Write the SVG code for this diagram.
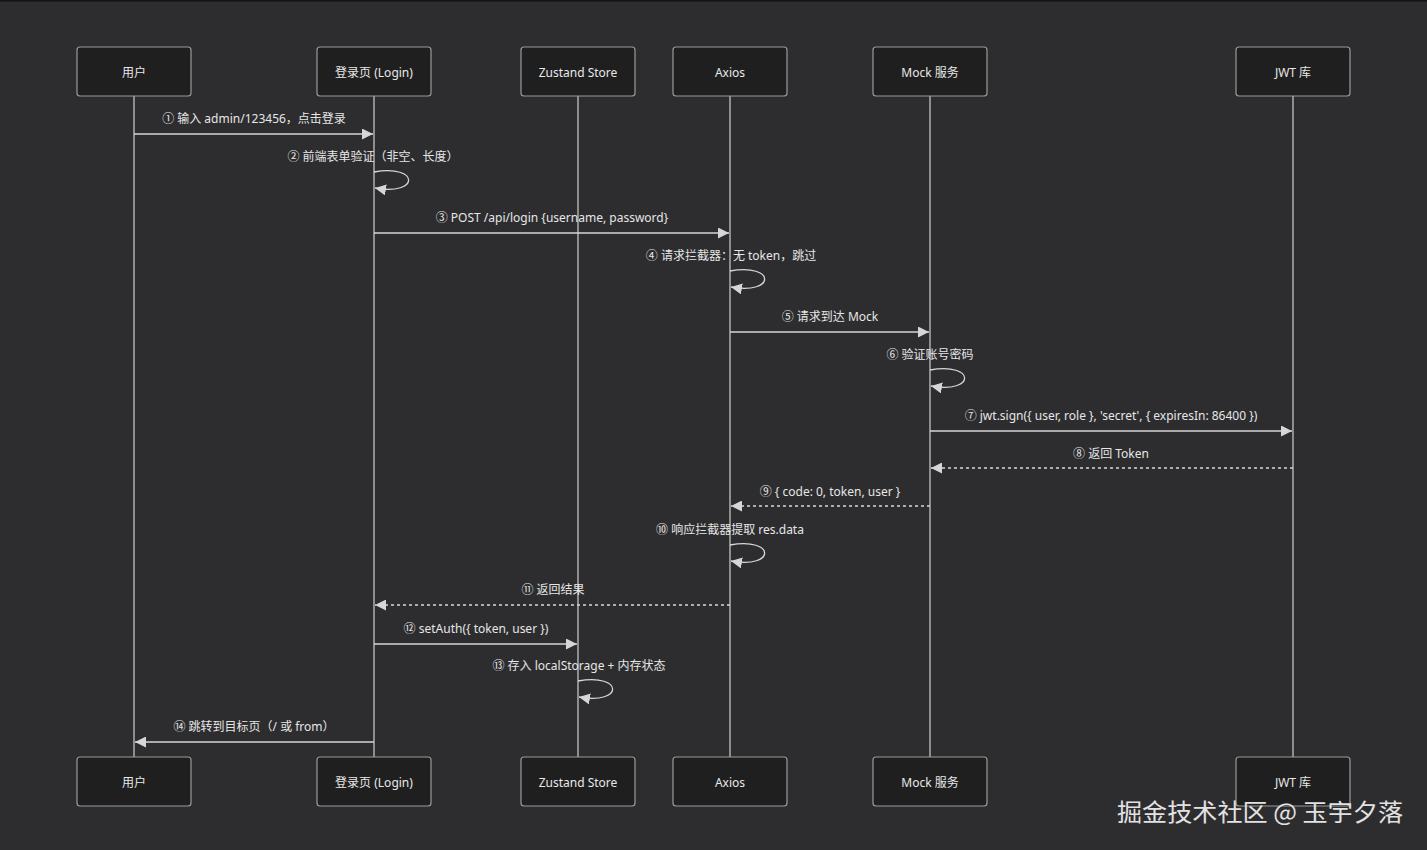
<svg xmlns="http://www.w3.org/2000/svg" width="1427" height="850" viewBox="0 0 1427 850">
<defs>
<style>
.bg{fill:#2d2d2f}
.box rect{fill:#1f1f1f;stroke:#9a9a9a;stroke-width:1.2}
.box text{fill:#e8e8e8;font-family:"Noto Sans","Noto Sans CJK SC",sans-serif;font-size:12px;text-anchor:middle;dominant-baseline:central}
.life{stroke:#cfcfcf;stroke-width:1.2}
.msg{stroke:#d6d6d6;stroke-width:1.3;fill:none}
.dash{stroke-dasharray:3,3}
.lbl{fill:#e6e6e6;font-family:"Noto Sans","Noto Sans CJK SC",sans-serif;font-size:12px;text-anchor:middle}
.wm{fill:#e2e2e2;font-family:"Noto Sans CJK SC",sans-serif;font-size:24px}
</style>
<marker id="ah" viewBox="0 0 10 10" refX="10" refY="5" markerWidth="11" markerHeight="11" markerUnits="userSpaceOnUse" orient="auto">
<path d="M0,0 L10,5 L0,10 z" fill="#d6d6d6"/>
</marker>
</defs>
<rect class="bg" x="0" y="0" width="1427" height="850"/>
<rect x="0" y="0" width="1427" height="1.5" fill="#111"/>
<g id="lifelines">
<line class="life" x1="134" y1="96" x2="134" y2="757"/>
<line class="life" x1="374" y1="96" x2="374" y2="757"/>
<line class="life" x1="578" y1="96" x2="578" y2="757"/>
<line class="life" x1="730" y1="96" x2="730" y2="757"/>
<line class="life" x1="930" y1="96" x2="930" y2="757"/>
<line class="life" x1="1293" y1="96" x2="1293" y2="757"/>
</g>
<g id="actor-user" class="box"><rect x="77" y="47" width="114" height="49" rx="3"/><text x="134" y="72">用户</text></g>
<g id="actor-login" class="box"><rect x="317" y="47" width="114" height="49" rx="3"/><text x="374" y="72">登录页 (Login)</text></g>
<g id="actor-store" class="box"><rect x="521" y="47" width="114" height="49" rx="3"/><text x="578" y="72">Zustand Store</text></g>
<g id="actor-axios" class="box"><rect x="673" y="47" width="114" height="49" rx="3"/><text x="730" y="72">Axios</text></g>
<g id="actor-mock" class="box"><rect x="873" y="47" width="114" height="49" rx="3"/><text x="930" y="72">Mock 服务</text></g>
<g id="actor-jwt" class="box"><rect x="1236" y="47" width="114" height="49" rx="3"/><text x="1293" y="72">JWT 库</text></g>
<g id="actor-user-b" class="box"><rect x="77" y="757" width="114" height="49" rx="3"/><text x="134" y="782">用户</text></g>
<g id="actor-login-b" class="box"><rect x="317" y="757" width="114" height="49" rx="3"/><text x="374" y="782">登录页 (Login)</text></g>
<g id="actor-store-b" class="box"><rect x="521" y="757" width="114" height="49" rx="3"/><text x="578" y="782">Zustand Store</text></g>
<g id="actor-axios-b" class="box"><rect x="673" y="757" width="114" height="49" rx="3"/><text x="730" y="782">Axios</text></g>
<g id="actor-mock-b" class="box"><rect x="873" y="757" width="114" height="49" rx="3"/><text x="930" y="782">Mock 服务</text></g>
<g id="actor-jwt-b" class="box"><rect x="1236" y="757" width="114" height="49" rx="3"/><text x="1293" y="782">JWT 库</text></g>
<g id="connectors">
<line class="msg" x1="134" y1="134" x2="373" y2="134" marker-end="url(#ah)"/>
<path class="msg" d="M374,172 C420,164 420,196 375,188" marker-end="url(#ah)"/>
<line class="msg" x1="374" y1="233" x2="729" y2="233" marker-end="url(#ah)"/>
<path class="msg" d="M730,271 C776,263 776,295 731,287" marker-end="url(#ah)"/>
<line class="msg" x1="730" y1="332" x2="929" y2="332" marker-end="url(#ah)"/>
<path class="msg" d="M930,370 C976,362 976,394 931,386" marker-end="url(#ah)"/>
<line class="msg" x1="930" y1="431" x2="1292" y2="431" marker-end="url(#ah)"/>
<line class="msg dash" x1="1293" y1="468" x2="931" y2="468" marker-end="url(#ah)"/>
<line class="msg dash" x1="930" y1="506" x2="731" y2="506" marker-end="url(#ah)"/>
<path class="msg" d="M730,545 C776,537 776,569 731,561" marker-end="url(#ah)"/>
<line class="msg dash" x1="730" y1="605" x2="375" y2="605" marker-end="url(#ah)"/>
<line class="msg" x1="374" y1="644" x2="577" y2="644" marker-end="url(#ah)"/>
<path class="msg" d="M578,681 C624,673 624,705 579,697" marker-end="url(#ah)"/>
<line class="msg" x1="374" y1="742" x2="135" y2="742" marker-end="url(#ah)"/>
</g>
<g id="labels">
<text class="lbl" x="254" y="123">① 输入 admin/123456，点击登录</text>
<text class="lbl" x="373" y="161">② 前端表单验证（非空、长度）</text>
<text class="lbl" x="552" y="222">③ POST /api/login {username, password}</text>
<text class="lbl" x="731" y="260">④ 请求拦截器：无 token，跳过</text>
<text class="lbl" x="830" y="321">⑤ 请求到达 Mock</text>
<text class="lbl" x="930" y="359">⑥ 验证账号密码</text>
<text class="lbl" x="1111" y="420">⑦ jwt.sign({ user, role }, 'secret', { expiresIn: 86400 })</text>
<text class="lbl" x="1111" y="458">⑧ 返回 Token</text>
<text class="lbl" x="830" y="496">⑨ { code: 0, token, user }</text>
<text class="lbl" x="730" y="534">⑩ 响应拦截器提取 res.data</text>
<text class="lbl" x="553" y="594">⑪ 返回结果</text>
<text class="lbl" x="476" y="633">⑫ setAuth({ token, user })</text>
<text class="lbl" x="579" y="670">⑬ 存入 localStorage + 内存状态</text>
<text class="lbl" x="254" y="731">⑭ 跳转到目标页（/ 或 from）</text>
</g>
<text class="wm" x="1117" y="821" textLength="286" lengthAdjust="spacingAndGlyphs">掘金技术社区 @ 玉宇夕落</text>
</svg>
